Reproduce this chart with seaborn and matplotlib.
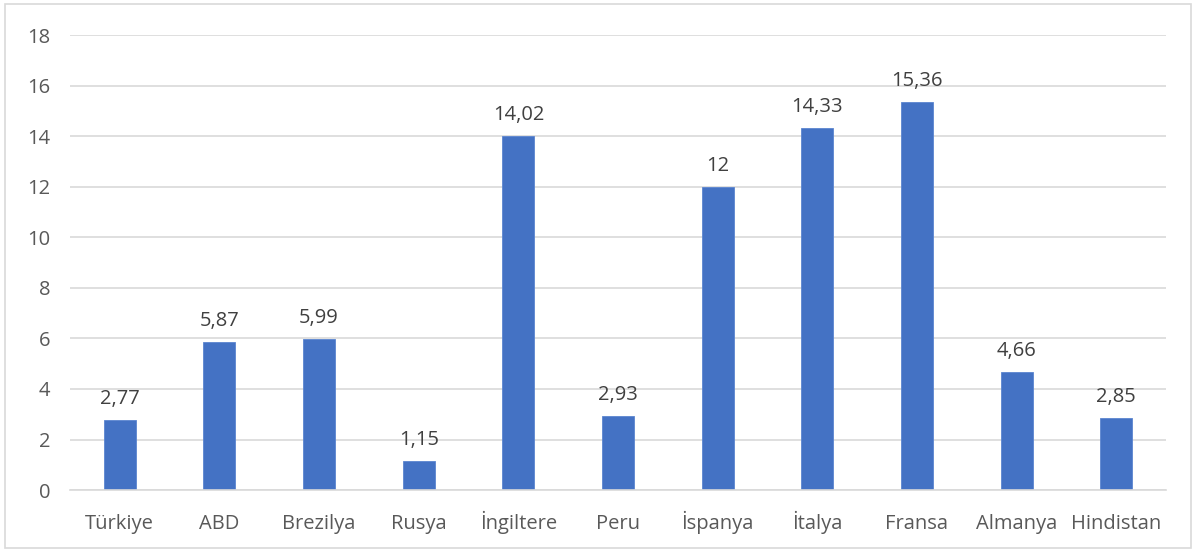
import matplotlib
matplotlib.use("Agg")
import matplotlib.pyplot as plt
import seaborn as sns
import pandas as pd
from matplotlib.patches import Rectangle

# veriler
ulkeler = ["Türkiye", "ABD", "Brezilya", "Rusya", "İngiltere", "Peru",
           "İspanya", "İtalya", "Fransa", "Almanya", "Hindistan"]
degerler = [2.77, 5.87, 5.99, 1.15, 14.02, 2.93, 12, 14.33, 15.36, 4.66, 2.85]
etiketler = ["2,77", "5,87", "5,99", "1,15", "14,02", "2,93", "12", "14,33", "15,36", "4,66", "2,85"]
y_ticks = [0, 2, 4, 6, 8, 10, 12, 14, 16, 18]

df = pd.DataFrame({"Ulke": ulkeler, "Deger": degerler})

sns.set_style("white")
plt.rcParams['font.family'] = ['Open Sans', 'DejaVu Sans']

fig = plt.figure(figsize=(11.96, 5.5), dpi=100)
ax = fig.add_axes([0.0585, 0.109, 0.9165, 0.827])

sns.barplot(data=df, x="Ulke", y="Deger", color="#4472C4", width=0.32,
            saturation=1, edgecolor="#5B85D0", linewidth=0.6, ax=ax)

ax.set_ylim(0, 18)
ax.set_xlim(-0.5, len(ulkeler) - 0.5)
ax.set_yticks(y_ticks)
ax.set_yticklabels([str(t) for t in y_ticks])
ax.yaxis.grid(True, color="#D9D9D9", linewidth=1.2)
ax.set_axisbelow(True)
for s in ["top", "right", "left"]:
    ax.spines[s].set_visible(False)
ax.spines["bottom"].set_color("#D9D9D9")
ax.spines["bottom"].set_linewidth(1.2)
ax.tick_params(axis="both", length=0, labelsize=14.5, colors="#595959")
ax.tick_params(axis="x", pad=28)
ax.tick_params(axis="y", pad=14)
for lbl in ax.get_xticklabels():
    lbl.set_verticalalignment("baseline")
ax.set_xlabel("")
ax.set_ylabel("")

for i, (v, t) in enumerate(zip(degerler, etiketler)):
    ax.annotate(t, (i, v), xytext=(0, 8), textcoords="offset points",
                ha="center", va="bottom", fontsize=14.5, color="#404040")

# cerceve
fig.patches.append(Rectangle((0.004, 0.004), 0.992, 0.988, transform=fig.transFigure,
                             fill=False, edgecolor="#D9D9D9", linewidth=1.2))

fig.savefig("out.png", dpi=100)
